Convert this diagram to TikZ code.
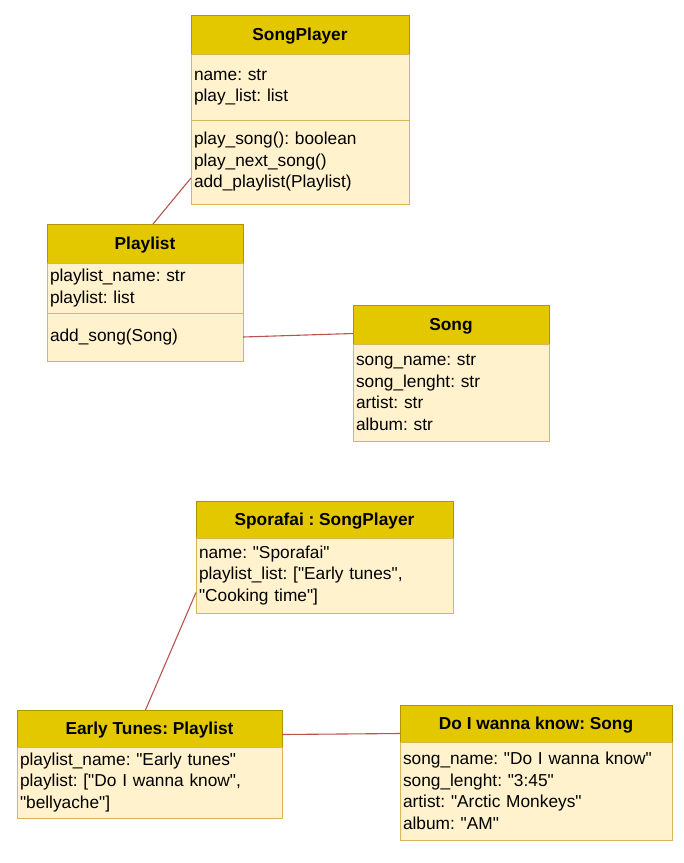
\documentclass[tikz,border=0pt]{standalone}
\usepackage{fontspec}
\setmainfont{Liberation Sans}
\usetikzlibrary{positioning}
\frenchspacing
\newcommand{\qt}[1]{\textquotedbl#1\textquotedbl}

\begin{document}
\begin{tikzpicture}[x=1pt,y=-1pt,
	head/.style={draw=headline,fill=headfill,line width=1pt,anchor=north west,outer sep=0pt,minimum height=39pt,text height=12.4pt,text depth=0pt,font=\bfseries\fontsize{17.3}{21.5}\selectfont},
	body/.style={draw=bodyline,fill=bodyfill,line width=1pt,anchor=north west,outer sep=0pt,align=left,inner xsep=3pt,inner ysep=0pt,font=\fontsize{17.3}{21.5}\selectfont},
	link/.style={draw=linkred,line width=1.1pt}]
	\definecolor{headfill}{HTML}{E3C800}
	\definecolor{headline}{HTML}{B09500}
	\definecolor{bodyfill}{HTML}{FFF2CC}
	\definecolor{bodyline}{HTML}{D6B656}
	\definecolor{linkred}{HTML}{B85450}
	\useasboundingbox (0,0) rectangle (684,863);

	\node[head,minimum width=218pt] (spHead) at (191,15) {SongPlayer};
	\node[body,text width=212pt,minimum height=66pt] (spAttr) at (spHead.south west) {name: str\\play\_list: list};
	\node[body,text width=212pt,minimum height=84pt] (spMeth) at (spAttr.south west) {play\_song(): boolean\\play\_next\_song()\\add\_playlist(Playlist)};

	\node[head,minimum width=196pt] (plHead) at (47,224) {Playlist};
	\node[body,text width=190pt,minimum height=50pt] (plAttr) at (plHead.south west) {playlist\_name: str\\playlist: list};
	\node[body,text width=190pt,minimum height=48pt] (plMeth) at (plAttr.south west) {add\_song(Song)};

	\node[head,minimum width=196pt] (sgHead) at (353,305) {Song};
	\node[body,text width=190pt,minimum height=97pt] (sgAttr) at (sgHead.south west) {song\_name: str\\song\_lenght: str\\artist: str\\album: str};

	\node[head,minimum width=257pt,minimum height=37pt] (spfHead) at (196,501) {Sporafai : SongPlayer};
	\node[body,text width=251pt,minimum height=75pt] (spfAttr) at (spfHead.south west) {name: \qt{Sporafai}\\playlist\_list: [\qt{Early tunes},\\\qt{Cooking time}]};

	\node[head,minimum width=265pt,minimum height=37pt] (etHead) at (17,710) {Early Tunes: Playlist};
	\node[body,text width=259pt,minimum height=71pt] (etAttr) at (etHead.south west) {playlist\_name: \qt{Early tunes}\\playlist: [\qt{Do I wanna know},\\\qt{bellyache}]};

	\node[head,minimum width=272pt,minimum height=37pt] (dwHead) at (400,705) {Do I wanna know: Song};
	\node[body,text width=266pt,minimum height=98pt] (dwAttr) at (dwHead.south west) {song\_name: \qt{Do I wanna know}\\song\_lenght: \qt{3:45}\\artist: \qt{Arctic Monkeys}\\album: \qt{AM}};

	\draw[link] ([yshift=-16pt]spMeth.west) -- ([xshift=8pt]plHead.north);
	\draw[link] (plMeth.east) -- ([yshift=-9pt]sgHead.west);
	\draw[link] ([yshift=-17pt]spfAttr.west) -- ([xshift=-4pt]etHead.north);
	\draw[link] ([yshift=-6pt]etHead.east) -- ([yshift=-10pt]dwHead.west);
\end{tikzpicture}
\end{document}
